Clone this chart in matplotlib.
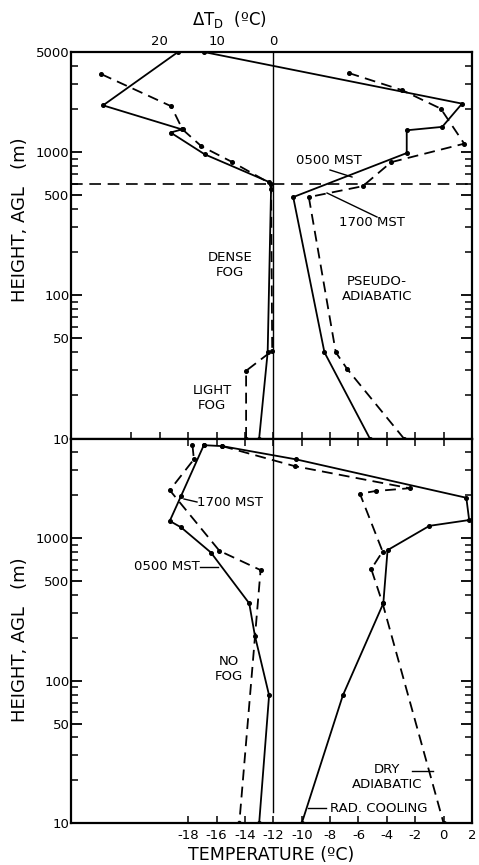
import numpy as np
import matplotlib
matplotlib.use("Agg")
import matplotlib.pyplot as plt
from matplotlib.ticker import FixedLocator, NullFormatter

plt.rcParams['font.family'] = ['DejaVu Sans']
plt.rcParams['mathtext.fontset'] = 'dejavusans'

# ---------------- data ----------------
# Top panel: dew-point depression profiles (delta T_D, deg C) vs height (m)
top_dtd_0500_h = [5000, 2120, 1440, 1370, 965, 617, 555, 40, 10]
top_dtd_0500_v = [16.8, 30.0, 16.1, 18.1, 12.1, 0.7, 0.4, 1.0, 2.5]
top_dtd_1700_h = [3500, 2090, 1440, 1100, 850, 600, 41, 29.7, 10]
top_dtd_1700_v = [30.3, 18.0, 16.0, 12.7, 7.2, 0.4, 0.2, 4.8, 4.8]

# Top panel: temperature profiles (deg C)
top_t_0500_h = [5000, 2180, 1500, 1420, 985, 485, 40, 10]
top_t_0500_v = [-16.9, 1.3, -0.1, -2.6, -2.6, -10.6, -8.4, -5.2]
top_t_1700_h = [3570, 2700, 2010, 1145, 850, 578, 485, 40, 30.6, 10]
top_t_1700_v = [-6.7, -2.9, -0.2, 1.45, -3.7, -5.7, -9.5, -7.6, -6.8, -2.8]

# Bottom panel: profiles (deg C)
bot_l_0500_h = [4490, 1980, 1320, 1190, 793, 349, 207, 79, 10]
bot_l_0500_v = [-16.9, -18.5, -19.3, -18.5, -16.4, -13.7, -13.3, -12.3, -13.0]
bot_l_1700_h = [4490, 3570, 2170, 815, 597, 10]
bot_l_1700_v = [-17.7, -17.6, -19.3, -15.8, -12.9, -14.4]
bot_rad_h = [4490, 4420, 3570, 1920, 1340, 1220, 824, 349, 79, 10]
bot_rad_v = [-16.9, -15.6, -10.4, 1.6, 1.8, -1.0, -3.95, -4.25, -7.1, -10.0]
bot_dry_h = [4420, 3200, 2240, 2140, 2050, 806, 607, 349, 10]
bot_dry_v = [-15.6, -10.5, -2.4, -4.8, -5.9, -4.3, -5.1, -4.3, 0.0]

fog_top_height = 600          # horizontal dashed line (m)
ref_temp = -12                # vertical reference line (deg C)

y_major = [10, 50, 100, 500, 1000, 5000]
y_minor = [20, 30, 40, 60, 70, 80, 90, 200, 300, 400, 600, 700, 800, 900, 2000, 3000, 4000]
t_ticks = [-18, -16, -14, -12, -10, -8, -6, -4, -2, 0, 2]
t_top_ticks = [-22, -20, -18, -16, -14, -12, -10, -8, -6, -4, -2, 0]
dtd_ticks = [20, 10, 0]

# ---------------- figure ----------------
W, H = 479, 865
fig = plt.figure(figsize=(W / 100, H / 100), dpi=100)
L, R = 71 / W, 472 / W
ax1 = fig.add_axes([L, 1 - 438.5 / H, R - L, (438.5 - 52) / H])
ax2 = fig.add_axes([L, 1 - 823.3 / H, R - L, (823.3 - 438.5) / H])

xlim = (-26.26, 2.0)
def to_dtd(t):
    return 2.5 * (ref_temp - t)

lw = 1.3
mk = dict(marker='o', markersize=2.6, color='black')
dash = (0, (6, 3.5))
TS = 9.5   # tick label size
AS = 9.5   # annotation size

for ax in (ax1, ax2):
    ax.set_yscale('log')
    ax.set_ylim(10, 5000)
    ax.set_xlim(*xlim)
    for s in ax.spines.values():
        s.set_linewidth(1.6)
    ax.yaxis.set_major_locator(FixedLocator(y_major))
    ax.yaxis.set_minor_locator(FixedLocator(y_minor))
    ax.yaxis.set_minor_formatter(NullFormatter())
    ax.tick_params(axis='y', which='major', direction='in', length=8, width=1.3,
                   left=True, right=True, labelsize=TS, pad=1)
    ax.tick_params(axis='y', which='minor', direction='in', length=5, width=1.1,
                   left=True, right=True)

# top panel
ax1.set_yticklabels([str(v) for v in y_major])
ax1.xaxis.set_major_locator(FixedLocator(t_top_ticks))
ax1.tick_params(axis='x', which='major', direction='in', length=5, width=1.1,
                top=True, bottom=True, labelbottom=False, labeltop=False)
ax1.plot([ref_temp, ref_temp], [10, 5000], color='black', lw=1.0)
ax1.axhline(fog_top_height, color='black', lw=1.2, linestyle=(0, (7, 4)))
ax1.plot(top_t_0500_v, top_t_0500_h, linestyle='-', lw=lw, **mk)
ax1.plot(top_t_1700_v, top_t_1700_h, linestyle=dash, lw=lw, **mk)

axd = ax1.twiny()
axd.set_xlim(to_dtd(xlim[0]), to_dtd(xlim[1]))
axd.set_xticks(dtd_ticks)
axd.set_xticklabels([str(v) for v in dtd_ticks])
axd.tick_params(axis='x', length=0, labelsize=TS, pad=3)
for s in axd.spines.values():
    s.set_visible(False)
axd.plot(top_dtd_0500_v, top_dtd_0500_h, linestyle='-', lw=lw, **mk)
axd.plot(top_dtd_1700_v, top_dtd_1700_h, linestyle=dash, lw=lw, **mk)


def ptext(x, y, s, **kw):
    kw.setdefault('fontsize', AS)
    kw.setdefault('ha', 'center')
    kw.setdefault('va', 'center')
    fig.text(x / W, 1 - y / H, s, linespacing=1.15, **kw)


def pline(x0, y0, x1, y1, lw=1.0):
    fig.add_artist(plt.Line2D([x0 / W, x1 / W], [1 - y0 / H, 1 - y1 / H],
                              color='black', lw=lw, transform=fig.transFigure))


ptext(229, 19, r'$\Delta$T$_\mathregular{D}$  (ºC)', fontsize=12)

ptext(230, 265, 'DENSE\nFOG')
ptext(212, 398, 'LIGHT\nFOG')
ptext(377, 289, 'PSEUDO-\nADIABATIC')
ptext(329, 161, '0500 MST')
ptext(372, 223, '1700 MST')
pline(330, 170, 352, 177)
pline(327, 193, 377, 217)

# bottom panel
ax2.set_yticks([10, 50, 100, 500, 1000])
ax2.set_yticklabels(['10', '50', '100', '500', '1000'])
ax2.xaxis.set_major_locator(FixedLocator(t_ticks))
ax2.set_xticklabels([str(v) for v in t_ticks])
ax2.tick_params(axis='x', which='major', direction='in', length=5, width=1.1,
                top=True, bottom=True, labelsize=TS, pad=4)
ax2.plot([ref_temp, ref_temp], [12, 5000], color='black', lw=1.0)
ax2.plot(bot_l_0500_v, bot_l_0500_h, linestyle='-', lw=lw, **mk)
ax2.plot(bot_l_1700_v, bot_l_1700_h, linestyle=dash, lw=lw, **mk)
ax2.plot(bot_rad_v, bot_rad_h, linestyle='-', lw=lw, **mk)
ax2.plot(bot_dry_v, bot_dry_h, linestyle=dash, lw=lw, **mk)
ax2.set_xlabel('TEMPERATURE (ºC)', fontsize=12.5, labelpad=3)

fig.text(197 / W, 1 - 502 / H, '1700 MST', fontsize=AS, ha='left', va='center')
pline(184, 499, 197, 502)
fig.text(200 / W, 1 - 567 / H, '0500 MST', fontsize=AS, ha='right', va='center')
pline(200, 567, 218, 567)
ptext(229, 669, 'NO\nFOG')
ptext(387, 777, 'DRY\nADIABATIC')
pline(412, 771, 433, 771)
fig.text(330 / W, 1 - 808 / H, 'RAD. COOLING', fontsize=AS, ha='left', va='center')
pline(308, 808, 326, 808)

fig.text(20 / W, 1 - 220 / H, 'HEIGHT, AGL   (m)', rotation=90, fontsize=13,
         ha='center', va='center')
fig.text(20 / W, 1 - 640 / H, 'HEIGHT, AGL   (m)', rotation=90, fontsize=13,
         ha='center', va='center')

fig.savefig('out.png', dpi=100)
